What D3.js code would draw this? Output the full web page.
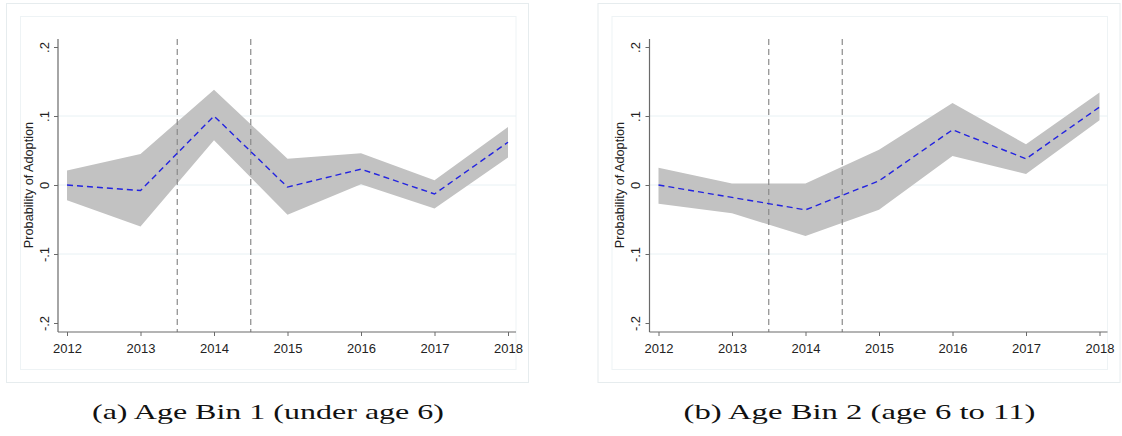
<!DOCTYPE html>
<html>
<head>
<meta charset="utf-8">
<script src="https://cdn.jsdelivr.net/npm/d3@7"></script>
<style>
  html, body { margin: 0; padding: 0; background: #ffffff; }
  svg { display: block; }
</style>
</head>
<body>
<svg id="fig" width="1122" height="436"></svg>
<script>
// Event-study estimates of adoption probability by year, with 95% CI band
const years = [2012, 2013, 2014, 2015, 2016, 2017, 2018];

const bin1Est = [0.000, -0.008, 0.100, -0.003, 0.023, -0.013, 0.062];
const bin1Hi  = [0.021,  0.045, 0.138,  0.038, 0.046,  0.007, 0.084];
const bin1Lo  = [-0.022, -0.060, 0.065, -0.043, 0.001, -0.034, 0.040];

const bin2Est = [0.000, -0.018, -0.036, 0.006, 0.080, 0.038, 0.113];
const bin2Hi  = [0.025,  0.002,  0.002, 0.051, 0.119, 0.059, 0.134];
const bin2Lo  = [-0.027, -0.041, -0.074, -0.036, 0.042, 0.016, 0.094];

const yTicks = [-0.2, -0.1, 0, 0.1, 0.2];
const yTickLabels = ["-.2", "-.1", "0", ".1", ".2"];
const yGrid = [-0.1, 0, 0.1];
const policyLines = [2013.5, 2014.5];
const yTitle = "Probability of Adoption";
const captions = ["(a) Age Bin 1 (under age 6)", "(b) Age Bin 2 (age 6 to 11)"];

const panels = [
  { est: bin1Est, hi: bin1Hi, lo: bin1Lo, caption: captions[0], ox: 0 },
  { est: bin2Est, hi: bin2Hi, lo: bin2Lo, caption: captions[1], ox: 591.5 }
];

const svg = d3.select("#fig");
const sansFont = "'Liberation Sans', Arial, sans-serif";

panels.forEach(p => {
  const g = svg.append("g").attr("transform", `translate(${p.ox},0)`);

  // outer graph frame and inner plot region frame
  g.append("rect").attr("x", 6.5).attr("y", 3.5).attr("width", 522).attr("height", 379)
    .attr("fill", "#ffffff").attr("stroke", "#e6ecee").attr("stroke-width", 1);
  g.append("rect").attr("x", 20.5).attr("y", 16.5).attr("width", 495.5).attr("height", 353)
    .attr("fill", "#ffffff").attr("stroke", "#eef3f5").attr("stroke-width", 1);

  const x = d3.scaleLinear().domain([2012, 2018]).range([67, 508]);
  const y = d3.scaleLinear().domain([-0.2, 0.2]).range([323, 47]);
  const axisX = 58, axisY = 332, top = 39, right = 516;

  // horizontal grid
  g.append("g").selectAll("line").data(yGrid).join("line")
    .attr("x1", axisX).attr("x2", right)
    .attr("y1", d => y(d)).attr("y2", d => y(d))
    .attr("stroke", "#e8f1f4").attr("stroke-width", 1);

  // confidence band
  const area = d3.area()
    .x((d, i) => x(years[i]))
    .y0((d, i) => y(p.lo[i]))
    .y1((d, i) => y(p.hi[i]));
  g.append("path").datum(years).attr("d", area).attr("fill", "#c2c2c2");

  // policy reference lines
  g.append("g").selectAll("line").data(policyLines).join("line")
    .attr("x1", d => x(d)).attr("x2", d => x(d))
    .attr("y1", top).attr("y2", axisY)
    .attr("stroke", "#8a8a8a").attr("stroke-width", 1.2)
    .attr("stroke-dasharray", "6,4");

  // point estimates
  const line = d3.line().x((d, i) => x(years[i])).y(d => y(d));
  g.append("path").datum(p.est).attr("d", line)
    .attr("fill", "none").attr("stroke", "#2323e0").attr("stroke-width", 1.4)
    .attr("stroke-dasharray", "6,4");

  // y axis
  const ya = g.append("g").attr("transform", `translate(${axisX},0)`)
    .call(d3.axisLeft(y).tickValues(yTicks).tickSize(4).tickSizeOuter(0)
      .tickFormat((d, i) => yTickLabels[i]));
  ya.select(".domain").remove();
  ya.append("line").attr("x1", 0).attr("x2", 0).attr("y1", top).attr("y2", axisY)
    .attr("stroke", "#6a6a6a").attr("stroke-width", 1.2);
  ya.selectAll(".tick line").attr("stroke", "#6a6a6a");
  ya.selectAll(".tick text")
    .attr("transform", "rotate(-90)")
    .attr("x", 0).attr("y", -9.5).attr("dy", 0)
    .style("text-anchor", "middle")
    .style("font-family", sansFont).style("font-size", "13px").attr("fill", "#222");

  // x axis
  const xa = g.append("g").attr("transform", `translate(0,${axisY})`)
    .call(d3.axisBottom(x).tickValues(years).tickSize(4).tickSizeOuter(0)
      .tickFormat(d3.format("d")));
  xa.select(".domain").remove();
  xa.append("line").attr("x1", axisX).attr("x2", right).attr("y1", 0).attr("y2", 0)
    .attr("stroke", "#6a6a6a").attr("stroke-width", 1.2);
  xa.selectAll(".tick line").attr("stroke", "#6a6a6a");
  xa.selectAll(".tick text")
    .attr("y", 20.5).attr("dy", 0)
    .style("font-family", sansFont).style("font-size", "13px").attr("fill", "#222");

  // y axis title
  g.append("text")
    .attr("transform", `translate(32.5,${y(0)}) rotate(-90)`)
    .attr("text-anchor", "middle")
    .style("font-family", sansFont).style("font-size", "12.7px").attr("fill", "#222")
    .text(yTitle);

  // panel caption
  g.append("text")
    .attr("x", 268).attr("y", 419)
    .attr("text-anchor", "middle")
    .attr("textLength", 352).attr("lengthAdjust", "spacingAndGlyphs")
    .style("font-family", "'Liberation Serif', 'DejaVu Serif', serif")
    .style("font-size", "21px").attr("fill", "#111")
    .text(p.caption);
});
</script>
</body>
</html>
